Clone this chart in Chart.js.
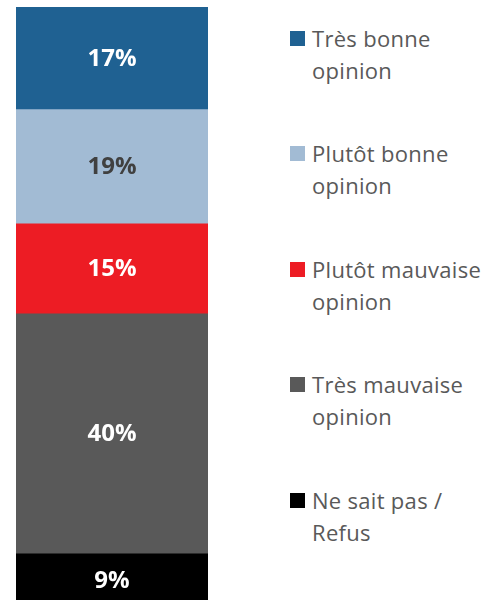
<!DOCTYPE html>
<html>
<head>
<meta charset="utf-8">
<script src="https://cdn.jsdelivr.net/npm/chart.js@4"></script>
<style>
  html, body { margin: 0; padding: 0; background: #fff; }
  #wrap { position: relative; width: 487px; height: 600px; overflow: hidden; }
  #box { position: absolute; left: 0; top: 0; width: 208px; height: 600px; }
  #legend { position: absolute; left: 290px; top: 0; font-family: "Open Sans", sans-serif; font-size: 22px; letter-spacing: 0.3px; color: #595959; }
  .item { position: absolute; left: 0; width: 200px; line-height: 32px; }
  .item span.sw { position: absolute; left: 0; top: 9px; width: 15px; height: 15px; }
  .item div.txt { margin-left: 22px; white-space: nowrap; }
</style>
</head>
<body>
<div id="wrap">
  <div id="box"><canvas id="c"></canvas></div>
  <div id="legend"></div>
</div>
<script>
// catégories (du haut vers le bas)
const categories = ['Très bonne opinion', 'Plutôt bonne opinion', 'Plutôt mauvaise opinion', 'Très mauvaise opinion', 'Ne sait pas / Refus'];
const legendLines = [
  ['Très bonne', 'opinion'],
  ['Plutôt bonne', 'opinion'],
  ['Plutôt mauvaise', 'opinion'],
  ['Très mauvaise', 'opinion'],
  ['Ne sait pas /', 'Refus']
];
const values = [17, 19, 15, 40, 9];
const colors = ['#1F6192', '#A2BBD4', '#ED1C24', '#595959', '#000000'];
const labelColors = ['#ffffff', '#404040', '#ffffff', '#ffffff', '#ffffff'];

// étiquettes au centre de chaque segment
const centerLabels = {
  id: 'centerLabels',
  afterDatasetsDraw(chart) {
    const ctx = chart.ctx;
    ctx.save();
    ctx.font = 'bold 24px "Open Sans", sans-serif';
    ctx.textAlign = 'center';
    ctx.textBaseline = 'middle';
    chart.data.datasets.forEach((ds, i) => {
      const el = chart.getDatasetMeta(i).data[0];
      ctx.fillStyle = labelColors[i];
      ctx.fillText(ds.data[0] + '%', el.x, (el.y + el.base) / 2 + 1);
    });
    ctx.restore();
  }
};

const chart = new Chart(document.getElementById('c'), {
  type: 'bar',
  data: {
    labels: [''],
    datasets: categories.map((name, i) => ({
      label: name,
      data: [values[i]],
      backgroundColor: colors[i],
      borderWidth: 0,
      barPercentage: 1,
      categoryPercentage: 1
    }))
  },
  options: {
    responsive: true,
    maintainAspectRatio: false,
    animation: false,
    layout: { padding: { left: 16, top: 7, right: 0, bottom: 0 } },
    scales: {
      x: { stacked: true, display: false },
      y: { stacked: true, display: false, reverse: true, min: 0, max: 98.8 }
    },
    plugins: {
      legend: { display: false },
      tooltip: { enabled: false }
    }
  },
  plugins: [centerLabels]
});

// légende à droite
const legend = document.getElementById('legend');
legendLines.forEach((lines, i) => {
  const item = document.createElement('div');
  item.className = 'item';
  item.style.top = (22 + i * 115.4) + 'px';
  const sw = document.createElement('span');
  sw.className = 'sw';
  sw.style.background = colors[i];
  const txt = document.createElement('div');
  txt.className = 'txt';
  txt.innerHTML = lines.join('<br>');
  item.appendChild(sw);
  item.appendChild(txt);
  legend.appendChild(item);
});
</script>
</body>
</html>
